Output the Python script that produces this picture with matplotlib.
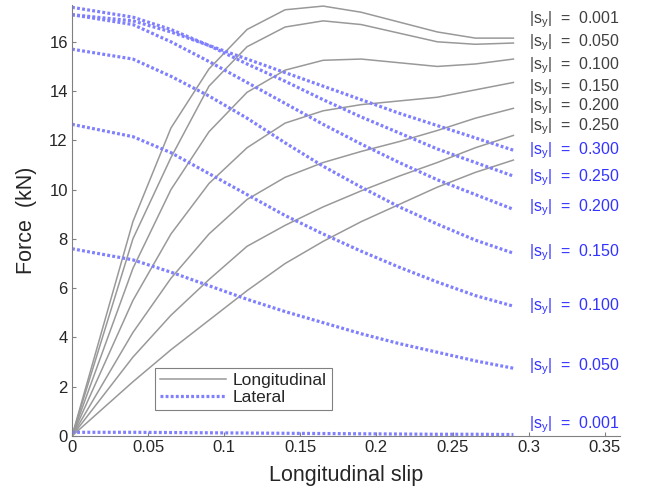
import matplotlib
matplotlib.use('Agg')
from matplotlib import pyplot as plt

plt.rcParams['font.family'] = ['Liberation Sans', 'DejaVu Sans']
plt.rcParams['mathtext.fontset'] = 'custom'
plt.rcParams['mathtext.rm'] = 'Liberation Sans'
plt.rcParams['mathtext.it'] = 'Liberation Sans'

# longitudinal slip grid
slip = [0, 0.04, 0.065, 0.09, 0.115, 0.14, 0.165, 0.19, 0.215, 0.24, 0.265, 0.29]

# longitudinal force (kN), one list per |s_y|
long_labels = ['0.001', '0.050', '0.100', '0.150', '0.200', '0.250', '0.300']
fx_0001 = [0, 8.7, 12.5, 14.9, 16.5, 17.3, 17.45, 17.2, 16.8, 16.4, 16.15, 16.15]
fx_0050 = [0, 8.0, 11.3, 14.2, 15.8, 16.6, 16.85, 16.7, 16.35, 16.0, 15.9, 15.95]
fx_0100 = [0, 6.8, 10.0, 12.35, 13.95, 14.85, 15.25, 15.3, 15.15, 15.0, 15.1, 15.3]
fx_0150 = [0, 5.5, 8.2, 10.25, 11.7, 12.7, 13.2, 13.45, 13.6, 13.75, 14.05, 14.35]
fx_0200 = [0, 4.2, 6.4, 8.2, 9.6, 10.5, 11.1, 11.55, 11.95, 12.4, 12.9, 13.3]
fx_0250 = [0, 3.2, 4.9, 6.35, 7.7, 8.55, 9.3, 9.95, 10.55, 11.1, 11.7, 12.2]
fx_0300 = [0, 2.2, 3.5, 4.7, 5.9, 7.0, 7.9, 8.7, 9.4, 10.1, 10.7, 11.2]
fx_all = [fx_0001, fx_0050, fx_0100, fx_0150, fx_0200, fx_0250, fx_0300]

# lateral force (kN), one list per |s_y|
lat_labels = ['0.300', '0.250', '0.200', '0.150', '0.100', '0.050', '0.001']
fy_0300 = [17.1, 16.85, 16.4, 15.85, 15.3, 14.75, 14.2, 13.65, 13.1, 12.6, 12.1, 11.6]
fy_0250 = [17.4, 17.0, 16.5, 15.85, 15.1, 14.4, 13.65, 12.95, 12.3, 11.65, 11.1, 10.55]
fy_0200 = [17.1, 16.7, 16.0, 15.2, 14.35, 13.5, 12.65, 11.85, 11.1, 10.4, 9.8, 9.2]
fy_0150 = [15.7, 15.3, 14.6, 13.8, 12.9, 11.9, 10.95, 10.1, 9.3, 8.6, 7.95, 7.42]
fy_0100 = [12.65, 12.15, 11.5, 10.65, 9.8, 8.95, 8.2, 7.5, 6.85, 6.25, 5.7, 5.27]
fy_0050 = [7.6, 7.15, 6.65, 6.1, 5.55, 5.05, 4.6, 4.15, 3.75, 3.4, 3.05, 2.75]
fy_0001 = [0.15, 0.15, 0.14, 0.13, 0.12, 0.11, 0.10, 0.09, 0.08, 0.07, 0.07, 0.06]
fy_all = [fy_0300, fy_0250, fy_0200, fy_0150, fy_0100, fy_0050, fy_0001]

# label heights
long_label_y = [16.9, 15.95, 15.05, 14.15, 13.35, 12.55]
lat_label_y = [11.6, 10.5, 9.25, 7.42, 5.25, 2.8, 0.45]

gray = '#999999'
blue = '#8080ff'
txt = '#404040'

fig = plt.figure(figsize=(6.57, 4.95), dpi=100)
ax = fig.add_axes([0.1096, 0.1192, 0.834, 0.871])

for i, fx in enumerate(fx_all):
    ax.plot(slip, fx, c=gray, lw=1.1, label='Longitudinal' if i == 0 else None)
for i, fy in enumerate(fy_all):
    ax.plot(slip, fy, c=blue, lw=2.3, ls=(0, (0.9, 0.7)),
            label='Lateral' if i == 0 else None)

for lab, y in zip(long_labels, long_label_y):
    ax.text(0.3, y, r'|s$_{\mathrm{y}}$|  =  ' + lab, color=txt,
            fontsize=11.5, va='center', ha='left')
for lab, y in zip(lat_labels, lat_label_y):
    ax.text(0.3, y, r'|s$_{\mathrm{y}}$|  =  ' + lab, color='#3333ff',
            fontsize=11.5, va='center', ha='left')

ax.set_xlim(0, 0.36)
ax.set_ylim(0, 17.5)
ax.set_xticks([0, 0.05, 0.1, 0.15, 0.2, 0.25, 0.3, 0.35])
ax.set_xticklabels(['0', '0.05', '0.1', '0.15', '0.2', '0.25', '0.3', '0.35'])
ax.set_yticks(range(0, 17, 2))
ax.tick_params(direction='in', length=3, colors='#808080', labelcolor='#262626',
               labelsize=12, pad=3)
for s in ['top', 'right']:
    ax.spines[s].set_visible(False)
for s in ['left', 'bottom']:
    ax.spines[s].set_color('#808080')
ax.set_xlabel('Longitudinal slip', fontsize=15.5, color='#262626', labelpad=7)
ax.set_ylabel('Force  (kN)', fontsize=15.5, color='#262626', labelpad=9)

leg = ax.legend(loc='lower left', bbox_to_anchor=(0.151, 0.06), fontsize=12.5,
                fancybox=False, framealpha=1, edgecolor='#808080',
                borderpad=0.3, labelspacing=0.1, handlelength=3.8,
                handletextpad=0.4, borderaxespad=0)
for t in leg.get_texts():
    t.set_color('#262626')
leg.get_frame().set_linewidth(0.8)

fig.savefig('out.png', dpi=100)
